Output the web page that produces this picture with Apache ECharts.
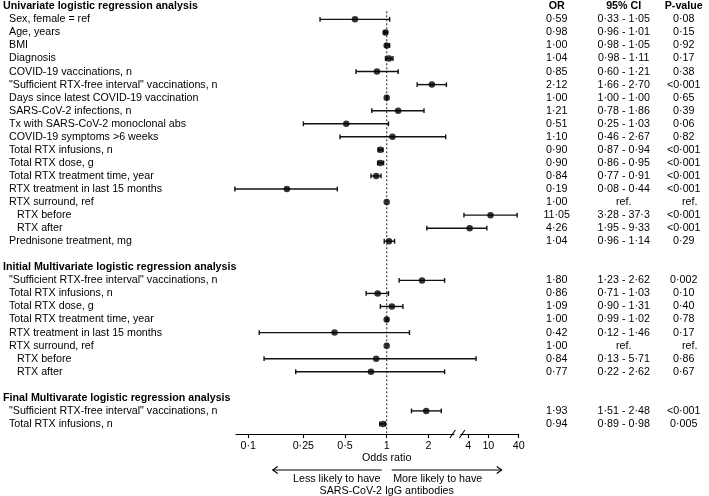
<!DOCTYPE html>
<html><head><meta charset="utf-8">
<script src="https://cdn.jsdelivr.net/npm/echarts@6/dist/echarts.min.js"></script>
<style>html,body{margin:0;padding:0;background:#fff}#c{width:709px;height:496px}</style>
</head><body><div id="c"></div>
<script>
// ---- data ----
const rowLabels = [
  'Univariate logistic regression analysis',
  'Sex, female = ref','Age, years','BMI','Diagnosis','COVID-19 vaccinations, n',
  '"Sufficient RTX-free interval" vaccinations, n','Days since latest COVID-19 vaccination',
  'SARS-CoV-2 infections, n','Tx with SARS-CoV-2 monoclonal abs','COVID-19 symptoms >6 weeks',
  'Total RTX infusions, n','Total RTX dose, g','Total RTX treatment time, year',
  'RTX treatment in last 15 months','RTX surround, ref','RTX before','RTX after',
  'Prednisone treatment, mg','',
  'Initial Multivariate logistic regression analysis',
  '"Sufficient RTX-free interval" vaccinations, n','Total RTX infusions, n','Total RTX dose, g',
  'Total RTX treatment time, year','RTX treatment in last 15 months','RTX surround, ref',
  'RTX before','RTX after','',
  'Final Multivarate logistic regression analysis',
  '"Sufficient RTX-free interval" vaccinations, n','Total RTX infusions, n'
];
const rowKinds = ['h','i','i','i','i','i','i','i','i','i','i','i','i','i','i','i','s','s','i','',
  'h','i','i','i','i','i','i','s','s','','h','i','i'];
const orValues = [null,0.59,0.98,1.00,1.04,0.85,2.12,1.00,1.21,0.51,1.10,0.90,0.90,0.84,0.19,1.00,11.05,4.26,1.04,null,
  null,1.80,0.86,1.09,1.00,0.42,1.00,0.84,0.77,null,null,1.93,0.94];
const ciLow = [null,0.33,0.96,0.98,0.98,0.60,1.66,1.00,0.78,0.25,0.46,0.87,0.86,0.77,0.08,null,3.28,1.95,0.96,null,
  null,1.23,0.71,0.90,0.99,0.12,null,0.13,0.22,null,null,1.51,0.89];
const ciHigh = [null,1.05,1.01,1.05,1.11,1.21,2.70,1.00,1.86,1.03,2.67,0.94,0.95,0.91,0.44,null,37.3,9.33,1.14,null,
  null,2.62,1.03,1.31,1.02,1.46,null,5.71,2.62,null,null,2.48,0.98];
const orText = ['OR','0·59','0·98','1·00','1·04','0·85','2·12','1·00','1·21','0·51','1·10','0·90','0·90','0·84','0·19','1·00','11·05','4·26','1·04','',
  '','1·80','0·86','1·09','1·00','0·42','1·00','0·84','0·77','','','1·93','0·94'];
const ciText = ['95% CI','0·33 - 1·05','0·96 - 1·01','0·98 - 1·05','0·98 - 1·11','0·60 - 1·21','1·66 - 2·70','1·00 - 1·00','0·78 - 1·86','0·25 - 1·03','0·46 - 2·67','0·87 - 0·94','0·86 - 0·95','0·77 - 0·91','0·08 - 0·44','ref.','3·28 - 37·3','1·95 - 9·33','0·96 - 1·14','',
  '','1·23 - 2·62','0·71 - 1·03','0·90 - 1·31','0·99 - 1·02','0·12 - 1·46','ref.','0·13 - 5·71','0·22 - 2·62','','','1·51 - 2·48','0·89 - 0·98'];
const pText = ['P-value','0·08','0·15','0·92','0·17','0·38','<0·001','0·65','0·39','0·06','0·82','<0·001','<0·001','<0·001','<0·001','ref.','<0·001','<0·001','0·29','',
  '','0·002','0·10','0·40','0·78','0·17','ref.','0·86','0·67','','','<0·001','0·005'];
const tickValues = [0.1,0.25,0.5,1,2,4,10,40];
const tickLabels = ['0·1','0·25','0·5','1','2','4','10','40'];
const axisMinOR = 0.0815, axisMaxOR = 40, breakAt = 3;

// ---- broken log scale (two log segments) ----
const LEFT = 138.4, RIGHT = 50.4, U4 = 81.6;
function u(v){ return v < breakAt ? LEFT*Math.log10(v) : U4 + RIGHT*Math.log10(v/4); }

const FONT = 'Liberation Sans, Arial, Helvetica, sans-serif';
const FS = 10.7;
const TXT = '#000';
const YMIN = -0.483, YMAX = 32.77;
const rowIdx = rowLabels.map((_, i) => i);

const chart = echarts.init(document.getElementById('c'));

function colAxis(texts, margin, isP){
  return {
    type:'value', position:'right', inverse:true, min:YMIN, max:YMAX,
    axisLine:{show:false}, axisTick:{show:false}, splitLine:{show:false},
    axisLabel:{
      customValues: rowIdx.filter(i => texts[i] !== ''),
      margin: margin, align:'center', fontFamily:FONT, fontSize:FS, color:TXT,
      formatter: v => { const i = Math.round(v); const t = texts[i];
        if (i === 0) return '{h|' + t + '}';
        if (isP && t === 'ref.') return '{r|' + t + '}';
        return t; },
      rich:{ h:{fontWeight:'bold', fontFamily:FONT, fontSize:FS, color:TXT},
             r:{fontFamily:FONT, fontSize:FS, color:TXT, padding:[0,0,0,12]} }
    }
  };
}

const option = {
  animation:false,
  backgroundColor:'#fff',
  grid:{left:236, right:190.3, top:0, bottom:62, containLabel:false},
  xAxis:{
    type:'value', min:u(axisMinOR), max:u(axisMaxOR),
    axisLine:{show:true, onZero:false, lineStyle:{color:'#000', width:1.1}},
    axisTick:{show:true, length:4, customValues: tickValues.map(u), lineStyle:{color:'#000', width:1.1}},
    axisLabel:{customValues: tickValues.map(u), margin:7, fontFamily:FONT, fontSize:FS, color:TXT,
      formatter: val => { let best = 0, d = 1e9;
        tickValues.forEach((t, k) => { const e = Math.abs(u(t) - val); if (e < d){ d = e; best = k; } });
        return tickLabels[best]; }},
    splitLine:{show:false}
  },
  yAxis:[
    {
      type:'value', position:'left', inverse:true, min:YMIN, max:YMAX,
      axisLine:{show:false}, axisTick:{show:false}, splitLine:{show:false},
      axisLabel:{
        customValues: rowIdx.filter(i => rowLabels[i] !== ''),
        margin:233, align:'left', fontFamily:FONT, fontSize:FS, color:TXT,
        formatter: v => { const i = Math.round(v); return '{' + rowKinds[i] + '|' + rowLabels[i] + '}'; },
        rich:{
          h:{fontWeight:'bold', fontFamily:FONT, fontSize:FS, color:TXT},
          i:{fontFamily:FONT, fontSize:FS, color:TXT, padding:[0,0,0,6]},
          s:{fontFamily:FONT, fontSize:FS, color:TXT, padding:[0,0,0,14]}
        }
      }
    },
    colAxis(orText, 38, false),
    colAxis(ciText, 105, false),
    colAxis(pText, 165, true)
  ],
  series:[
    {
      type:'line', yAxisIndex:0, symbol:'none', silent:true, z:1,
      data:[[u(1), 0.38],[u(1), YMAX]],
      lineStyle:{color:'#444', width:1.2, type:[2,2]}
    },
    {
      type:'custom', yAxisIndex:0, silent:true, z:3, clip:false,
      encode:{x:[0,1], y:2},
      data: rowIdx.filter(i => ciLow[i] != null).map(i => [u(ciLow[i]), u(ciHigh[i]), i]),
      renderItem:(params, api) => {
        const a = api.coord([api.value(0), api.value(2)]);
        const b = api.coord([api.value(1), api.value(2)]);
        const h = 2.4, st = {stroke:'#111', lineWidth:1.4};
        return {type:'group', children:[
          {type:'line', shape:{x1:a[0], y1:a[1], x2:b[0], y2:b[1]}, style:st},
          {type:'line', shape:{x1:a[0], y1:a[1]-h, x2:a[0], y2:a[1]+h}, style:st},
          {type:'line', shape:{x1:b[0], y1:b[1]-h, x2:b[0], y2:b[1]+h}, style:st}
        ]};
      }
    },
    {
      type:'scatter', yAxisIndex:0, silent:true, z:4, symbol:'circle', symbolSize:6.5,
      itemStyle:{color:'#000'},
      data: rowIdx.filter(i => orValues[i] != null).map(i => [u(orValues[i]), i])
    },
    {
      type:'custom', yAxisIndex:0, silent:true, z:5, clip:false,
      data:[[(u(breakAt - 1e-9) + u(breakAt)) / 2, YMAX]],
      renderItem:(params, api) => {
        const p = api.coord([api.value(0), api.value(1)]);
        const st = {stroke:'#000', lineWidth:1.1};
        return {type:'group', children:[
          {type:'rect', shape:{x:p[0]-3, y:p[1]-1.5, width:6, height:3}, style:{fill:'#fff'}},
          {type:'line', shape:{x1:p[0]-7.5, y1:p[1]+4, x2:p[0]-2, y2:p[1]-4}, style:st},
          {type:'line', shape:{x1:p[0]+2, y1:p[1]+4, x2:p[0]+7.5, y2:p[1]-4}, style:st}
        ]};
      }
    }
  ]
};
chart.setOption(option);

// annotations below the axis, anchored on OR = 1
const p1 = chart.convertToPixel({xAxisIndex:0, yAxisIndex:0}, [u(1), YMAX]);
const x1 = p1[0], ay = p1[1];
const tStyle = (txt, x, y) => ({type:'text', x:x, y:y, style:{text:txt, fontFamily:FONT, fontSize:FS, fill:TXT, align:'center', verticalAlign:'middle'}});
const ls = {stroke:'#000', lineWidth:1.1, fill:null};
chart.setOption({graphic:[
  tStyle('Odds ratio', x1, ay + 24),
  {type:'polyline', shape:{points:[[x1-5, ay+36],[x1-114, ay+36]]}, style:ls},
  {type:'polyline', shape:{points:[[x1-109, ay+32.5],[x1-114, ay+36],[x1-109, ay+39.5]]}, style:ls},
  {type:'polyline', shape:{points:[[x1+5, ay+36],[x1+115, ay+36]]}, style:ls},
  {type:'polyline', shape:{points:[[x1+110, ay+32.5],[x1+115, ay+36],[x1+110, ay+39.5]]}, style:ls},
  tStyle('Less likely to have', x1-50, ay + 45),
  tStyle('More likely to have', x1+51, ay + 45),
  tStyle('SARS-CoV-2 IgG antibodies', x1, ay + 57)
]});
</script>
</body></html>
